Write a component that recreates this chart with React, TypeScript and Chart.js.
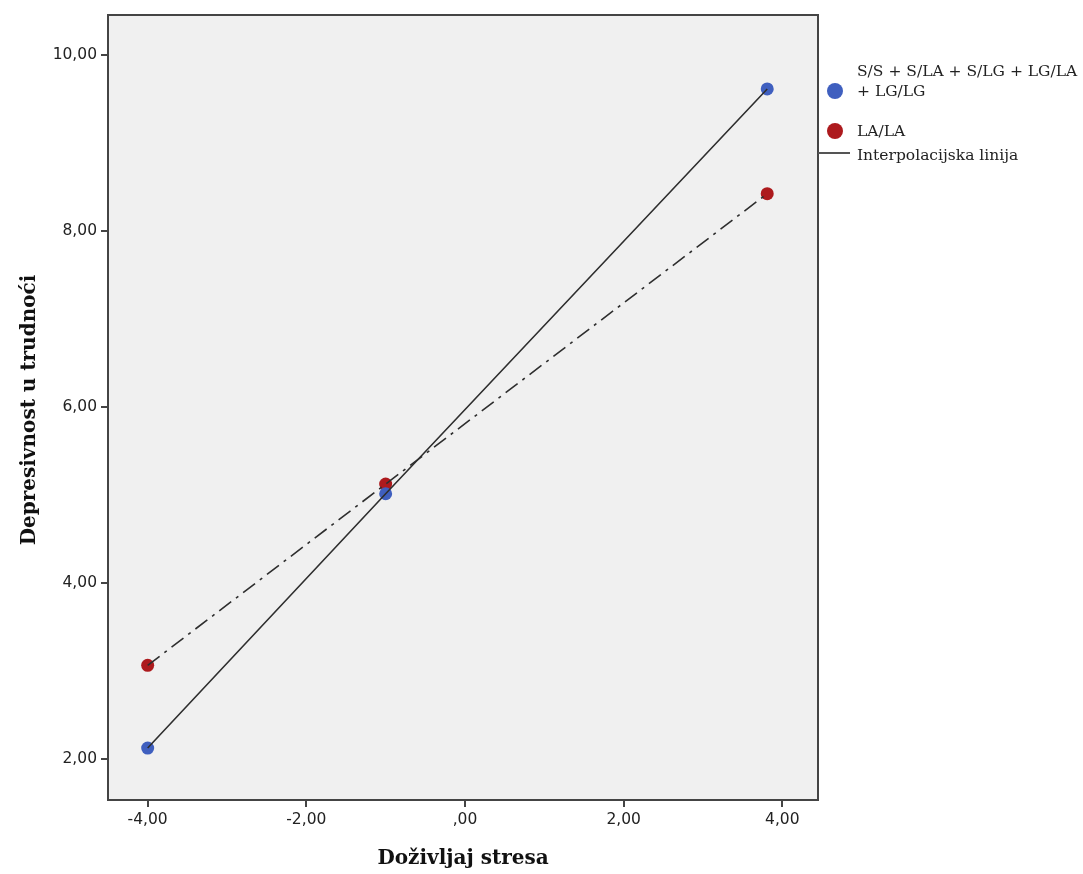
import React, { useEffect, useRef } from "react";
import { Chart, registerables } from "chart.js";

Chart.register(...registerables);

const xValues = [-4.0, -1.0, 3.81];
const groupA = [2.12, 5.01, 9.61]; // S/S + S/LA + S/LG + LG/LA + LG/LG
const groupB = [3.06, 5.12, 8.42]; // LA/LA
const xTicks = [-4, -2, 0, 2, 4];
const yTicks = [2, 4, 6, 8, 10];
const legendLabelA = ["S/S + S/LA + S/LG + LG/LA", "+ LG/LG"];
const legendLabelB = "LA/LA";
const legendLine = "Interpolacijska linija";
const xTitle = "Doživljaj stresa";
const yTitle = "Depresivnost u trudnoći";

const BLUE = "#3f5fbf";
const RED = "#ad1a1d";
const LINE = "#2e2e2e";

const fmt = (v: number) => {
  const s = Math.abs(v).toFixed(2).replace(".", ",");
  const t = s.startsWith("0,") ? s.slice(1) : s;
  return (v < 0 ? "-" : "") + t;
};

const pts = (ys: number[]) => xValues.map((x, i) => ({ x, y: ys[i] }));

export default function App() {
  const ref = useRef<HTMLCanvasElement | null>(null);
  useEffect(() => {
    if (!ref.current) return;
    const decor = {
      id: "decor",
      beforeDraw(chart: any) {
        const { ctx, chartArea: a } = chart;
        ctx.save();
        ctx.fillStyle = "#ffffff";
        ctx.fillRect(0, 0, chart.width, chart.height);
        ctx.fillStyle = "#f0f0f0";
        ctx.fillRect(a.left, a.top, a.right - a.left, a.bottom - a.top);
        ctx.restore();
      },
      afterDraw(chart: any) {
        const { ctx, chartArea: a } = chart;
        ctx.save();
        ctx.strokeStyle = "#444444";
        ctx.lineWidth = 2;
        ctx.strokeRect(a.left, a.top, a.right - a.left, a.bottom - a.top);
        // titles
        ctx.fillStyle = "#111111";
        ctx.font = "bold 20px 'DejaVu Serif', serif";
        ctx.textAlign = "center";
        ctx.textBaseline = "middle";
        ctx.fillText(xTitle, (a.left + a.right) / 2, 859);
        ctx.save();
        ctx.translate(30, 410);
        ctx.rotate(-Math.PI / 2);
        ctx.fillText(yTitle, 0, 0);
        ctx.restore();
        // legend
        ctx.textAlign = "left";
        ctx.font = "15.5px 'DejaVu Serif', serif";
        ctx.fillStyle = "#222222";
        ctx.fillText(legendLabelA[0], 857, 72);
        ctx.fillText(legendLabelA[1], 857, 92);
        ctx.fillText(legendLabelB, 857, 132);
        ctx.fillText(legendLine, 857, 156);
        ctx.fillStyle = BLUE;
        ctx.beginPath();
        ctx.arc(835, 91, 8, 0, Math.PI * 2);
        ctx.fill();
        ctx.fillStyle = RED;
        ctx.beginPath();
        ctx.arc(835, 131, 8, 0, Math.PI * 2);
        ctx.fill();
        ctx.strokeStyle = "#555555";
        ctx.lineWidth = 2;
        ctx.beginPath();
        ctx.moveTo(a.right, 153);
        ctx.lineTo(850, 153);
        ctx.stroke();
        ctx.restore();
      },
    };
    const chart = new Chart(ref.current, {
      type: "scatter",
      data: {
        datasets: [
          {
            label: "lineA",
            data: pts(groupA),
            showLine: true,
            borderColor: LINE,
            borderWidth: 1.6,
            pointRadius: 0,
          },
          {
            label: "lineB",
            data: pts(groupB),
            showLine: true,
            borderColor: LINE,
            borderWidth: 1.6,
            borderDash: [15, 6, 3, 6],
            pointRadius: 0,
          },
          {
            label: legendLabelA.join(" "),
            data: pts(groupA),
            backgroundColor: BLUE,
            borderColor: BLUE,
            pointRadius: 6.5,
            borderWidth: 0,
          },
          {
            label: legendLabelB,
            data: pts(groupB),
            backgroundColor: RED,
            borderColor: RED,
            pointRadius: 6.5,
            borderWidth: 0,
          },
        ],
      },
      options: {
        animation: false,
        responsive: false,
        maintainAspectRatio: false,
        layout: { padding: { top: 15, right: 265, left: 0, bottom: 0 } },
        plugins: { legend: { display: false }, tooltip: { enabled: false } },
        scales: {
          x: {
            type: "linear",
            min: -4.5,
            max: 4.45,
            afterBuildTicks: (s: any) => {
              s.ticks = xTicks.map((v) => ({ value: v }));
            },
            afterFit: (s: any) => {
              s.height = 74;
            },
            ticks: {
              callback: (v: any) => fmt(Number(v)),
              color: "#222222",
              font: { family: "'DejaVu Sans', sans-serif", size: 15.5 },
              padding: 4,
            },
            grid: {
              drawOnChartArea: false,
              drawTicks: true,
              tickLength: 7,
              color: "#444444",
              lineWidth: 2,
            },
            border: { display: false },
          },
          y: {
            type: "linear",
            min: 1.53,
            max: 10.45,
            afterBuildTicks: (s: any) => {
              s.ticks = yTicks.map((v) => ({ value: v }));
            },
            afterFit: (s: any) => {
              s.width = 108;
            },
            ticks: {
              callback: (v: any) => fmt(Number(v)),
              color: "#222222",
              font: { family: "'DejaVu Sans', sans-serif", size: 15.5 },
              padding: 4,
            },
            grid: {
              drawOnChartArea: false,
              drawTicks: true,
              tickLength: 7,
              color: "#444444",
              lineWidth: 2,
            },
            border: { display: false },
          },
        },
      },
      plugins: [decor],
    } as any);
    return () => chart.destroy();
  }, []);
  return (
    <div style={{ position: "fixed", left: 0, top: 0, width: 1083, height: 874, background: "#fff" }}>
      <canvas ref={ref} width={1083} height={874} style={{ width: 1083, height: 874, display: "block" }} />
    </div>
  );
}
